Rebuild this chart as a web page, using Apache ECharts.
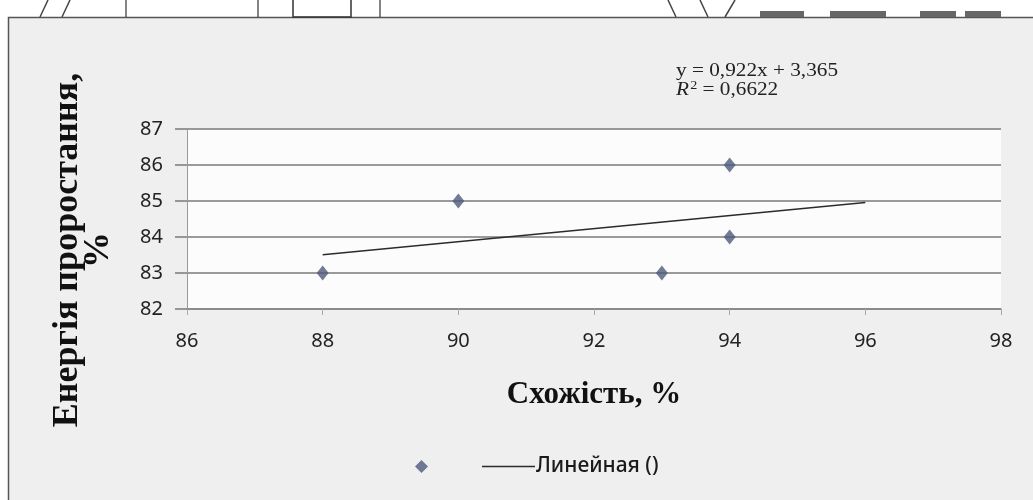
<!DOCTYPE html>
<html>
<head>
<meta charset="utf-8">
<script src="https://cdn.jsdelivr.net/npm/echarts@6/dist/echarts.min.js"></script>
<style>
  html, body { margin: 0; padding: 0; background: #ffffff; }
  #chart { width: 1033px; height: 500px; }
</style>
</head>
<body>
<div id="chart"></div>
<script>
// Germination rate (x) vs germination energy (y), per sample
const similarity = [88, 90, 93, 94, 94];
const energy = [83, 85, 83, 86, 84];

// Linear trend line endpoints (fit extended forward to 96)
const trendX = [88, 96];
const trendY = [83.51, 84.96];

const xTicks = [86, 88, 90, 92, 94, 96, 98];
const yTicks = [82, 83, 84, 85, 86, 87];

const equationText = 'y = 0,922x + 3,365';
const rSquaredText = '{i|R}{s|2} = 0,6622';
const xTitle = 'Схожість, %';
const yTitle = 'Енергія проростання,\n%';
const trendName = 'Линейная ()';

const points = similarity.map((v, i) => [v, energy[i]]);
const trend = trendX.map((v, i) => [v, trendY[i]]);

const chart = echarts.init(document.getElementById('chart'), null, { renderer: 'canvas' });

const tickFont = { fontFamily: 'Noto Sans', fontSize: 20, color: '#222222' };

chart.setOption({
  backgroundColor: '#ffffff',
  animation: false,
  graphic: [
    // chart frame
    {
      type: 'rect', z: -10, silent: true,
      shape: { x: 8.5, y: 17.5, width: 1040, height: 500 },
      style: { fill: '#efefef', stroke: '#555555', lineWidth: 1.5 }
    },
    // fragments of the page above the frame
    { type: 'line', silent: true, shape: { x1: 48, y1: 0, x2: 40, y2: 17 }, style: { stroke: '#444', lineWidth: 1.5 } },
    { type: 'line', silent: true, shape: { x1: 70, y1: 0, x2: 62, y2: 17 }, style: { stroke: '#444', lineWidth: 1.5 } },
    { type: 'line', silent: true, shape: { x1: 126, y1: 0, x2: 126, y2: 17 }, style: { stroke: '#333', lineWidth: 1.2 } },
    { type: 'line', silent: true, shape: { x1: 258, y1: 0, x2: 258, y2: 17 }, style: { stroke: '#333', lineWidth: 1.2 } },
    { type: 'rect', silent: true, shape: { x: 293, y: -2, width: 58, height: 19 }, style: { fill: 'none', stroke: '#333', lineWidth: 1.5 } },
    { type: 'line', silent: true, shape: { x1: 380, y1: 0, x2: 380, y2: 17 }, style: { stroke: '#333', lineWidth: 1.2 } },
    { type: 'line', silent: true, shape: { x1: 668, y1: 0, x2: 676, y2: 17 }, style: { stroke: '#444', lineWidth: 1.5 } },
    { type: 'line', silent: true, shape: { x1: 700, y1: 0, x2: 708, y2: 17 }, style: { stroke: '#444', lineWidth: 1.5 } },
    { type: 'line', silent: true, shape: { x1: 735, y1: 0, x2: 725, y2: 17 }, style: { stroke: '#444', lineWidth: 1.5 } },
    { type: 'rect', silent: true, shape: { x: 760, y: 11, width: 44, height: 6 }, style: { fill: '#666' } },
    { type: 'rect', silent: true, shape: { x: 830, y: 11, width: 56, height: 6 }, style: { fill: '#666' } },
    { type: 'rect', silent: true, shape: { x: 920, y: 11, width: 36, height: 6 }, style: { fill: '#666' } },
    { type: 'rect', silent: true, shape: { x: 965, y: 11, width: 36, height: 6 }, style: { fill: '#666' } },
    // rotated y-axis title
    {
      type: 'text', silent: true,
      x: 83, y: 250, rotation: Math.PI / 2,
      style: {
        text: yTitle,
        font: 'bold 36px "Liberation Serif"',
        fill: '#111111',
        align: 'center', verticalAlign: 'middle',
        lineHeight: 31
      }
    },
    // trend equation
    {
      type: 'text', silent: true,
      x: 676, y: 71, scaleX: 1.18,
      style: {
        text: equationText,
        font: '18px "Liberation Serif"', fill: '#222222',
        align: 'left', verticalAlign: 'middle'
      }
    },
    {
      type: 'text', silent: true,
      x: 676, y: 90, scaleX: 1.18,
      style: {
        text: rSquaredText,
        font: '18px "Liberation Serif"', fill: '#222222',
        align: 'left', verticalAlign: 'middle',
        rich: {
          i: { fontStyle: 'italic', fontFamily: 'Liberation Serif', fontSize: 18, fill: '#222' },
          s: { fontFamily: 'Liberation Serif', fontSize: 12, fill: '#222', verticalAlign: 'top', padding: [0, 0, 8, 1] }
        }
      }
    }
  ],
  grid: {
    left: 187, right: 32, top: 129, bottom: 191,
    show: true, backgroundColor: '#fcfcfc', borderWidth: 0
  },
  legend: [
    {
      left: 410, top: 455,
      itemWidth: 13, itemHeight: 13,
      data: [{ name: ' ', icon: 'diamond' }],
      formatter: () => '',
      textStyle: { fontSize: 1 }
    },
    {
      left: 477, top: 451,
      itemWidth: 53, itemHeight: 1.6,
      data: [{ name: trendName, icon: 'rect' }],
      textStyle: { fontFamily: 'Noto Sans', fontSize: 21, fontWeight: 500, color: '#1a1a1a', padding: [0, 0, 0, -4] }
    }
  ],
  xAxis: {
    type: 'value', min: 86, max: 98, interval: 2,
    name: xTitle, nameLocation: 'middle', nameGap: 70,
    nameTextStyle: { fontFamily: 'Liberation Serif', fontWeight: 'bold', fontSize: 31, color: '#111111' },
    axisLine: { show: true, lineStyle: { color: '#888888', width: 1.5 } },
    axisTick: { show: true, length: 6, lineStyle: { color: '#aaaaaa' } },
    axisLabel: Object.assign({ margin: 22, formatter: v => xTicks.includes(v) ? String(v) : '' }, tickFont),
    splitLine: { show: false }
  },
  yAxis: {
    type: 'value', min: 82, max: 87, interval: 1,
    axisLine: { show: true, lineStyle: { color: '#999999', width: 1 } },
    axisTick: { show: true, length: 12, lineStyle: { color: '#7a7a7a', width: 1.5 } },
    axisLabel: Object.assign({ margin: 24, formatter: v => yTicks.includes(v) ? String(v) : '' }, tickFont),
    splitLine: { show: true, lineStyle: { color: '#7a7a7a', width: 1.5 } }
  },
  series: [
    {
      name: ' ',
      type: 'scatter',
      symbol: 'diamond',
      symbolSize: [12, 15],
      itemStyle: { color: '#4f5a7a' },
      data: points,
      z: 3
    },
    {
      name: trendName,
      type: 'line',
      showSymbol: false,
      symbol: 'none',
      lineStyle: { color: '#2b2b2b', width: 1.5 },
      itemStyle: { color: '#2b2b2b' },
      data: trend,
      z: 4
    }
  ]
});
</script>
</body>
</html>
